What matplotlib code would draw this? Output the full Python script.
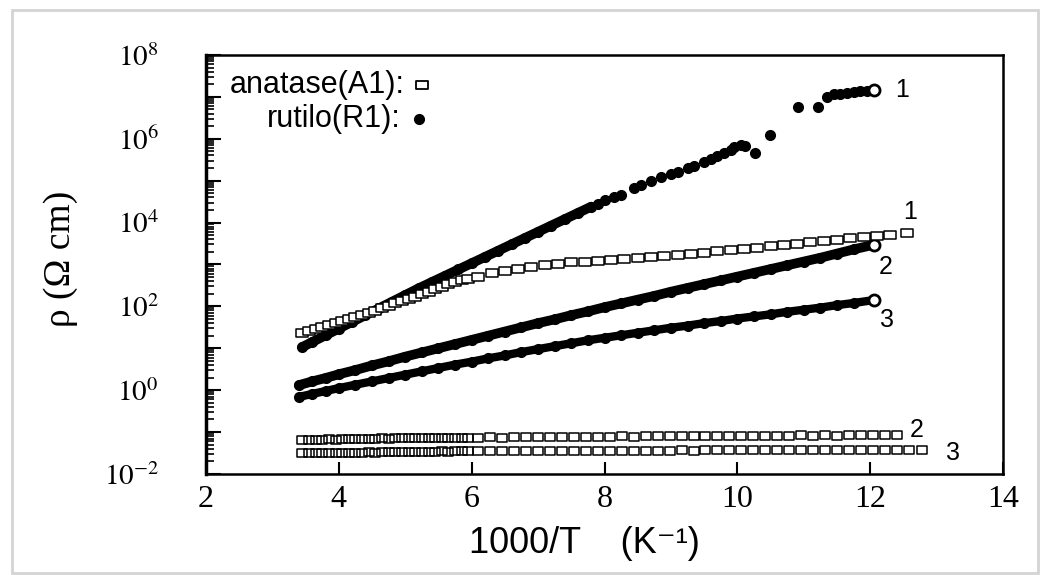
import numpy as np
import matplotlib
matplotlib.use('Agg')
import matplotlib.pyplot as plt
from matplotlib.path import Path
from matplotlib.patches import Rectangle
from matplotlib.ticker import LogLocator, FuncFormatter, NullFormatter

plt.rcParams['mathtext.fontset'] = 'stix'
plt.rcParams['font.family'] = ['Liberation Serif', 'DejaVu Serif']

# Resistivity vs inverse temperature, values are log10(rho / Ohm cm)
# Rutile (R1), samples 1-3
rutilo1_x = [3.45, 3.6, 3.8, 4.0, 4.2, 4.4, 4.6, 4.8, 5.0, 5.2, 5.4, 5.6, 5.8, 6.0, 6.2, 6.4,
             6.6, 6.8, 7.0, 7.2, 7.4, 7.6, 7.8,
             7.9, 8.0, 8.15, 8.25, 8.45, 8.55, 8.7, 8.85, 9.0, 9.1, 9.25, 9.35, 9.5, 9.6,
             9.7, 9.8, 9.9, 9.95, 10.05, 10.12, 10.27, 10.49, 10.92, 11.22, 11.35, 11.45,
             11.55, 11.65, 11.75, 11.85, 11.95, 12.05]
rutilo1_log = [1.03, 1.15, 1.31, 1.47, 1.63, 1.79, 1.95, 2.11, 2.27, 2.43, 2.58, 2.73, 2.88, 3.03,
               3.18, 3.33, 3.48, 3.63, 3.78, 3.93, 4.08, 4.23, 4.38,
               4.45, 4.55, 4.62, 4.66, 4.83, 4.90, 5.00, 5.08, 5.15, 5.20, 5.30, 5.35, 5.45, 5.52,
               5.60, 5.66, 5.74, 5.80, 5.85, 5.83, 5.66, 6.09, 6.76, 6.76, 7.00, 7.06,
               7.08, 7.10, 7.12, 7.14, 7.15, 7.16]
n_dense1 = 23  # continuous band before the points spread out

rutilo23_x = [3.40, 3.6, 3.8, 4.0, 4.25, 4.5, 4.75, 5.0, 5.25, 5.5, 5.75, 6.0, 6.25, 6.5, 6.75,
              7.0, 7.25, 7.5, 7.75, 8.0, 8.25, 8.5, 8.75, 9.0, 9.25, 9.5, 9.75, 10.0, 10.25,
              10.5, 10.75, 11.0, 11.25, 11.5, 11.75, 12.05]
rutilo2_log = [0.12, 0.21, 0.29, 0.38, 0.48, 0.59, 0.69, 0.80, 0.90, 1.00, 1.10, 1.20, 1.30, 1.40,
               1.50, 1.60, 1.69, 1.79, 1.88, 1.98, 2.07, 2.16, 2.25, 2.35, 2.44, 2.53, 2.62, 2.71,
               2.80, 2.89, 2.98, 3.07, 3.16, 3.26, 3.36, 3.47]
rutilo3_log = [-0.16, -0.09, -0.02, 0.05, 0.13, 0.21, 0.29, 0.37, 0.45, 0.53, 0.61, 0.68, 0.76,
               0.83, 0.91, 0.98, 1.05, 1.12, 1.19, 1.25, 1.31, 1.37, 1.43, 1.49, 1.54, 1.60,
               1.65, 1.71, 1.76, 1.81, 1.87, 1.92, 1.97, 2.03, 2.08, 2.15]

# Anatase (A1), samples 1-3
anatase_x_low = [3.45, 3.55, 3.65, 3.75, 3.85, 3.95, 4.05, 4.15, 4.25, 4.35, 4.45, 4.55, 4.65,
                 4.75, 4.85, 4.95, 5.05, 5.15, 5.25, 5.35, 5.45, 5.55, 5.65, 5.75, 5.85, 5.95]
anatase1_x = anatase_x_low + [6.1, 6.3, 6.5, 6.7, 6.9, 7.1, 7.3, 7.5, 7.7, 7.9, 8.1, 8.3, 8.5,
                              8.7, 8.9, 9.1, 9.3, 9.5, 9.7, 9.9, 10.1, 10.3, 10.5, 10.7, 10.9,
                              11.1, 11.3, 11.5, 11.7, 11.9, 12.1, 12.3, 12.55]
anatase1_log = [1.37, 1.42, 1.46, 1.51, 1.55, 1.60, 1.65, 1.70, 1.75, 1.80, 1.85, 1.90, 1.96,
                2.01, 2.07, 2.12, 2.18, 2.23, 2.29, 2.35, 2.41, 2.47, 2.53, 2.58, 2.62, 2.66,
                2.71, 2.79, 2.85, 2.90, 2.94, 2.98, 3.02, 3.05, 3.07, 3.09, 3.11, 3.13, 3.16,
                3.18, 3.21, 3.23, 3.26, 3.28, 3.31, 3.34, 3.37, 3.40, 3.44, 3.47, 3.50,
                3.53, 3.56, 3.59, 3.62, 3.65, 3.68, 3.71, 3.75]
anatase2_x = anatase_x_low + [6.10, 6.28, 6.46, 6.64, 6.82, 7.00, 7.18, 7.36, 7.54, 7.72, 7.90,
                              8.08, 8.26, 8.44, 8.62, 8.80, 8.98, 9.16, 9.34, 9.52, 9.70, 9.88,
                              10.06, 10.24, 10.42, 10.60, 10.78, 10.96, 11.14, 11.32, 11.50,
                              11.68, 11.86, 12.04, 12.22, 12.40]
anatase2_log = [-1.19, -1.18, -1.19, -1.18, -1.17, -1.18, -1.17, -1.17, -1.16, -1.17, -1.16,
                -1.16, -1.15, -1.16, -1.15, -1.15, -1.14, -1.15, -1.14, -1.14, -1.14, -1.13,
                -1.14, -1.13, -1.13, -1.13,
                -1.13, -1.12, -1.13, -1.12, -1.12, -1.12, -1.11, -1.12, -1.11, -1.11, -1.11,
                -1.11, -1.10, -1.11, -1.10, -1.10, -1.10, -1.10, -1.10, -1.09, -1.10, -1.09,
                -1.09, -1.09, -1.09, -1.09, -1.09, -1.08, -1.09, -1.08, -1.09, -1.08, -1.08,
                -1.08, -1.08, -1.08]
anatase3_x = anatase2_x + [12.58, 12.78]
anatase3_log = [-1.51, -1.50, -1.51, -1.50, -1.50, -1.49, -1.50, -1.49, -1.49, -1.49, -1.48,
                -1.49, -1.48, -1.48, -1.48, -1.47, -1.48, -1.47, -1.47, -1.47, -1.47, -1.46,
                -1.47, -1.46, -1.46, -1.46,
                -1.46, -1.46, -1.45, -1.46, -1.45, -1.45, -1.45, -1.45, -1.45, -1.44, -1.45,
                -1.44, -1.44, -1.44, -1.44, -1.44, -1.44, -1.43, -1.44, -1.43, -1.43, -1.43,
                -1.43, -1.43, -1.43, -1.43, -1.42, -1.43, -1.42, -1.42, -1.42, -1.42, -1.42,
                -1.42, -1.42, -1.42, -1.42, -1.42]

# sample numbers written next to the curve ends: (x, log10 rho, text)
curve_labels = [(12.48, 7.16, '1'), (12.6, 4.25, '1'), (12.23, 2.94, '2'),
                (12.26, 1.68, '3'), (12.7, -0.95, '2'), (13.25, -1.5, '3')]

sans = ['Liberation Sans', 'DejaVu Sans']

fig = plt.figure(figsize=(10.43, 5.75), dpi=100)
ax = fig.add_axes([0.1975, 0.1757, 0.7642, 0.7287])
ax.set_yscale('log')

# rectangle-ish open square used for the anatase points
box = Path([(-1.4, -1), (1.4, -1), (1.4, 1), (-1.4, 1), (-1.4, -1)],
           [Path.MOVETO, Path.LINETO, Path.LINETO, Path.LINETO, Path.CLOSEPOLY])

r1x = np.array(rutilo1_x)
r1y = 10 ** np.array(rutilo1_log)
ax.plot(r1x[:n_dense1], r1y[:n_dense1], '-', color='k', lw=7, solid_capstyle='round')
ax.plot(r1x[:-1], r1y[:-1], 'o', color='k', ms=7)
for ylog, lw in [(rutilo2_log, 7), (rutilo3_log, 6)]:
    y = 10 ** np.array(ylog)
    ax.plot(rutilo23_x, y, '-', color='k', lw=lw, solid_capstyle='round')
    ax.plot(rutilo23_x[:-1], y[:-1], 'o', color='k', ms=7)
# last point of each rutile run is drawn open
ax.plot([rutilo1_x[-1], rutilo23_x[-1], rutilo23_x[-1]],
        [10 ** rutilo1_log[-1], 10 ** rutilo2_log[-1], 10 ** rutilo3_log[-1]],
        'o', mfc='white', mec='k', mew=2, ms=8)

ax.plot(anatase1_x, 10 ** np.array(anatase1_log), linestyle='none', marker=box,
        ms=8, mfc='white', mec='k', mew=1.1)
ax.plot(anatase2_x, 10 ** np.array(anatase2_log), linestyle='none', marker=box,
        ms=7.5, mfc='none', mec='k', mew=1.1)
ax.plot(anatase3_x, 10 ** np.array(anatase3_log), linestyle='none', marker=box,
        ms=7.5, mfc='none', mec='k', mew=1.1)

for x, ylog, s in curve_labels:
    ax.text(x, 10 ** ylog, s, fontsize=18, ha='center', va='center', family=sans,
            clip_on=False)

# in-plot key, symbol placed just after each line of text
t_a = ax.text(0.030, 0.928, 'anatase(A1):', fontsize=22, family=sans,
              va='center', transform=ax.transAxes)
t_r = ax.text(0.077, 0.848, 'rutilo(R1):', fontsize=22, family=sans,
              va='center', transform=ax.transAxes)
fig.canvas.draw()
inv = ax.transAxes.inverted()
end_a = inv.transform(t_a.get_window_extent().get_points())[1, 0]
end_r = inv.transform(t_r.get_window_extent().get_points())[1, 0]
ax.plot([end_a + 0.022], [0.928], linestyle='none', marker=box, ms=8, mfc='white', mec='k',
        mew=1.3, transform=ax.transAxes, clip_on=False)
ax.plot([end_r + 0.022], [0.848], 'o', color='k', ms=7, transform=ax.transAxes,
        clip_on=False)

ax.set_xlim(2, 14)
ax.set_ylim(1e-2, 1e8)
ax.set_xticks([2, 4, 6, 8, 10, 12, 14])
ax.yaxis.set_major_locator(LogLocator(base=10, numticks=20))
ax.yaxis.set_minor_locator(LogLocator(base=10, subs=np.arange(2, 10), numticks=20))
ax.yaxis.set_major_formatter(FuncFormatter(
    lambda v, pos: r'$10^{%d}$' % round(np.log10(v)) if round(np.log10(v)) % 2 == 0 else ''))
ax.yaxis.set_minor_formatter(NullFormatter())

ax.tick_params(which='both', direction='in', top=False, right=False)
ax.tick_params(axis='y', which='major', length=11, width=1.5, pad=34, labelsize=21)
ax.tick_params(axis='y', which='minor', length=6, width=1.2)
ax.tick_params(axis='x', which='major', length=9, width=1.5, pad=8, labelsize=23)
for s in ax.spines.values():
    s.set_linewidth(1.8)
ax.spines['left'].set_linewidth(2.5)

ax.set_ylabel('ρ (Ω cm)', fontsize=27, va='center')
ax.yaxis.set_label_coords(-0.182, 0.513)
ax.set_xlabel('1000/T    (K⁻¹)', fontsize=26, family=sans, va='center')
ax.xaxis.set_label_coords(0.475, -0.167)

# light border round the figure
fig.patches.append(Rectangle((0.0115, 0.004), 0.984, 0.978, transform=fig.transFigure,
                             fill=False, ec='#d4d4d4', lw=2))

fig.savefig('out.png', dpi=100, facecolor='white')
